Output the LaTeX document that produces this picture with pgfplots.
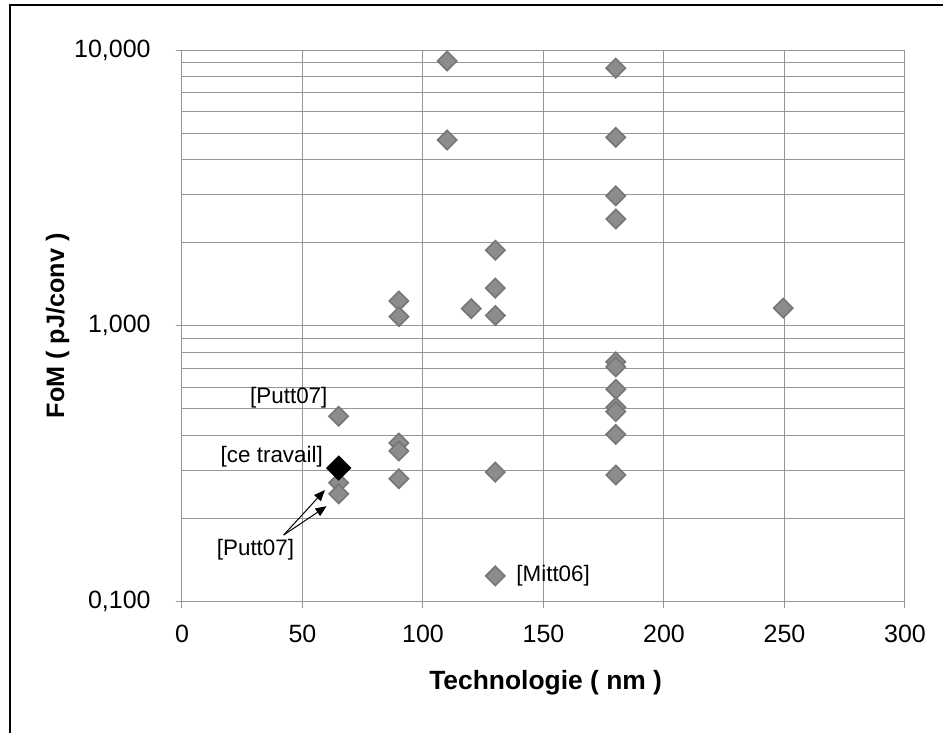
\documentclass[border=0pt]{standalone}
\usepackage{pgfplots}
\pgfplotsset{compat=1.18}
\usepackage{fontspec}
\setmainfont{Liberation Sans}
\usetikzlibrary{arrows.meta}

\definecolor{gridgray}{RGB}{150,150,150}
\definecolor{markfill}{RGB}{140,140,140}
\definecolor{markedge}{RGB}{118,118,118}

\begin{document}
\fontsize{12}{14}\selectfont
\begin{tikzpicture}
% page = 943 x 733 px, 1 px = 0.5pt
\useasboundingbox (0,0) rectangle (471.5pt,-366.5pt);
\draw[line width=1.4pt] (5pt,-2.5pt) rectangle (600pt,-500pt);
\begin{axis}[
    at={(91pt,-300.85pt)}, anchor=south west,
    scale only axis,
    width=361.5pt, height=275.85pt,
    xmin=0, xmax=300,
    ymode=log, ymin=0.1, ymax=10,
    xtick={0,50,...,300},
    ytick={0.1,1,10},
    yticklabels={{0,100},{1,000},{10,000}},
    minor ytick={0.2,0.3,0.4,0.5,0.6,0.7,0.8,0.9,2,3,4,5,6,7,8,9},
    grid=both,
    major grid style={gridgray, line width=0.5pt},
    minor grid style={gridgray, line width=0.5pt},
    axis line style={gridgray, line width=0.5pt},
    tick style={gridgray, line width=0.5pt},
    major tick length=3pt, minor tick length=0pt,
    tick align=outside, tick pos=left,
    /pgf/number format/assume math mode=true,
    ticklabel style={font=\fontsize{12.5}{14}\selectfont},
    xticklabel style={yshift=-4.5pt},
    yticklabel style={xshift=-8.5pt},
    every axis y label/.style={at={(axis description cs:-0.172,0.5)}, rotate=90, anchor=center,
        font=\fontsize{12.6}{14}\selectfont\bfseries},
    every axis x label/.style={at={(axis description cs:0.503,-0.147)}, anchor=center,
        font=\fontsize{13.2}{15}\selectfont\bfseries},
    xlabel={Technologie ( nm )},
    ylabel={FoM ( pJ/conv )},
    clip=false,
]
\addplot[only marks, mark=square*, mark size=3.4pt,
    mark options={fill=markfill, draw=markedge, line width=0.8pt, rotate=45}]
coordinates {
    (65,0.47) (65,0.27) (65,0.246)
    (90,1.23) (90,1.08) (90,0.376) (90,0.352) (90,0.279)
    (110,9.12) (110,4.72)
    (120,1.155)
    (130,1.88) (130,1.37) (130,1.09) (130,0.295) (130,0.124)
    (180,8.6) (180,4.82) (180,2.96) (180,2.44)
    (180,0.74) (180,0.71) (180,0.589) (180,0.507) (180,0.489)
    (180,0.404) (180,0.288)
    (249.5,1.16)
};
\addplot[only marks, mark=square*, mark size=4.3pt,
    mark options={fill=black, draw=black, rotate=45}]
coordinates {(65,0.305)};

\node[anchor=east, font=\fontsize{11.2}{13}\selectfont, inner sep=0pt] at (axis cs:60.5,0.548) {[Putt07]};
\node[anchor=east, font=\fontsize{11.2}{13}\selectfont, inner sep=0pt] at (axis cs:58.6,0.3346) {[ce travail]};
\node[anchor=center, font=\fontsize{11.2}{13}\selectfont, inner sep=0pt] at (axis cs:30.5,0.154) {[Putt07]};
\node[anchor=west, font=\fontsize{11.2}{13}\selectfont, inner sep=0pt] at (axis cs:138.6,0.124) {[Mitt06]};
\draw[-{Triangle[length=5.5pt,width=4.5pt]}, line width=0.5pt] (axis cs:42.2,0.1745) -- (axis cs:59.3,0.254);
\draw[-{Triangle[length=5.5pt,width=4.5pt]}, line width=0.5pt] (axis cs:42.2,0.1745) -- (axis cs:60.0,0.222);
\end{axis}
\end{tikzpicture}
\end{document}
